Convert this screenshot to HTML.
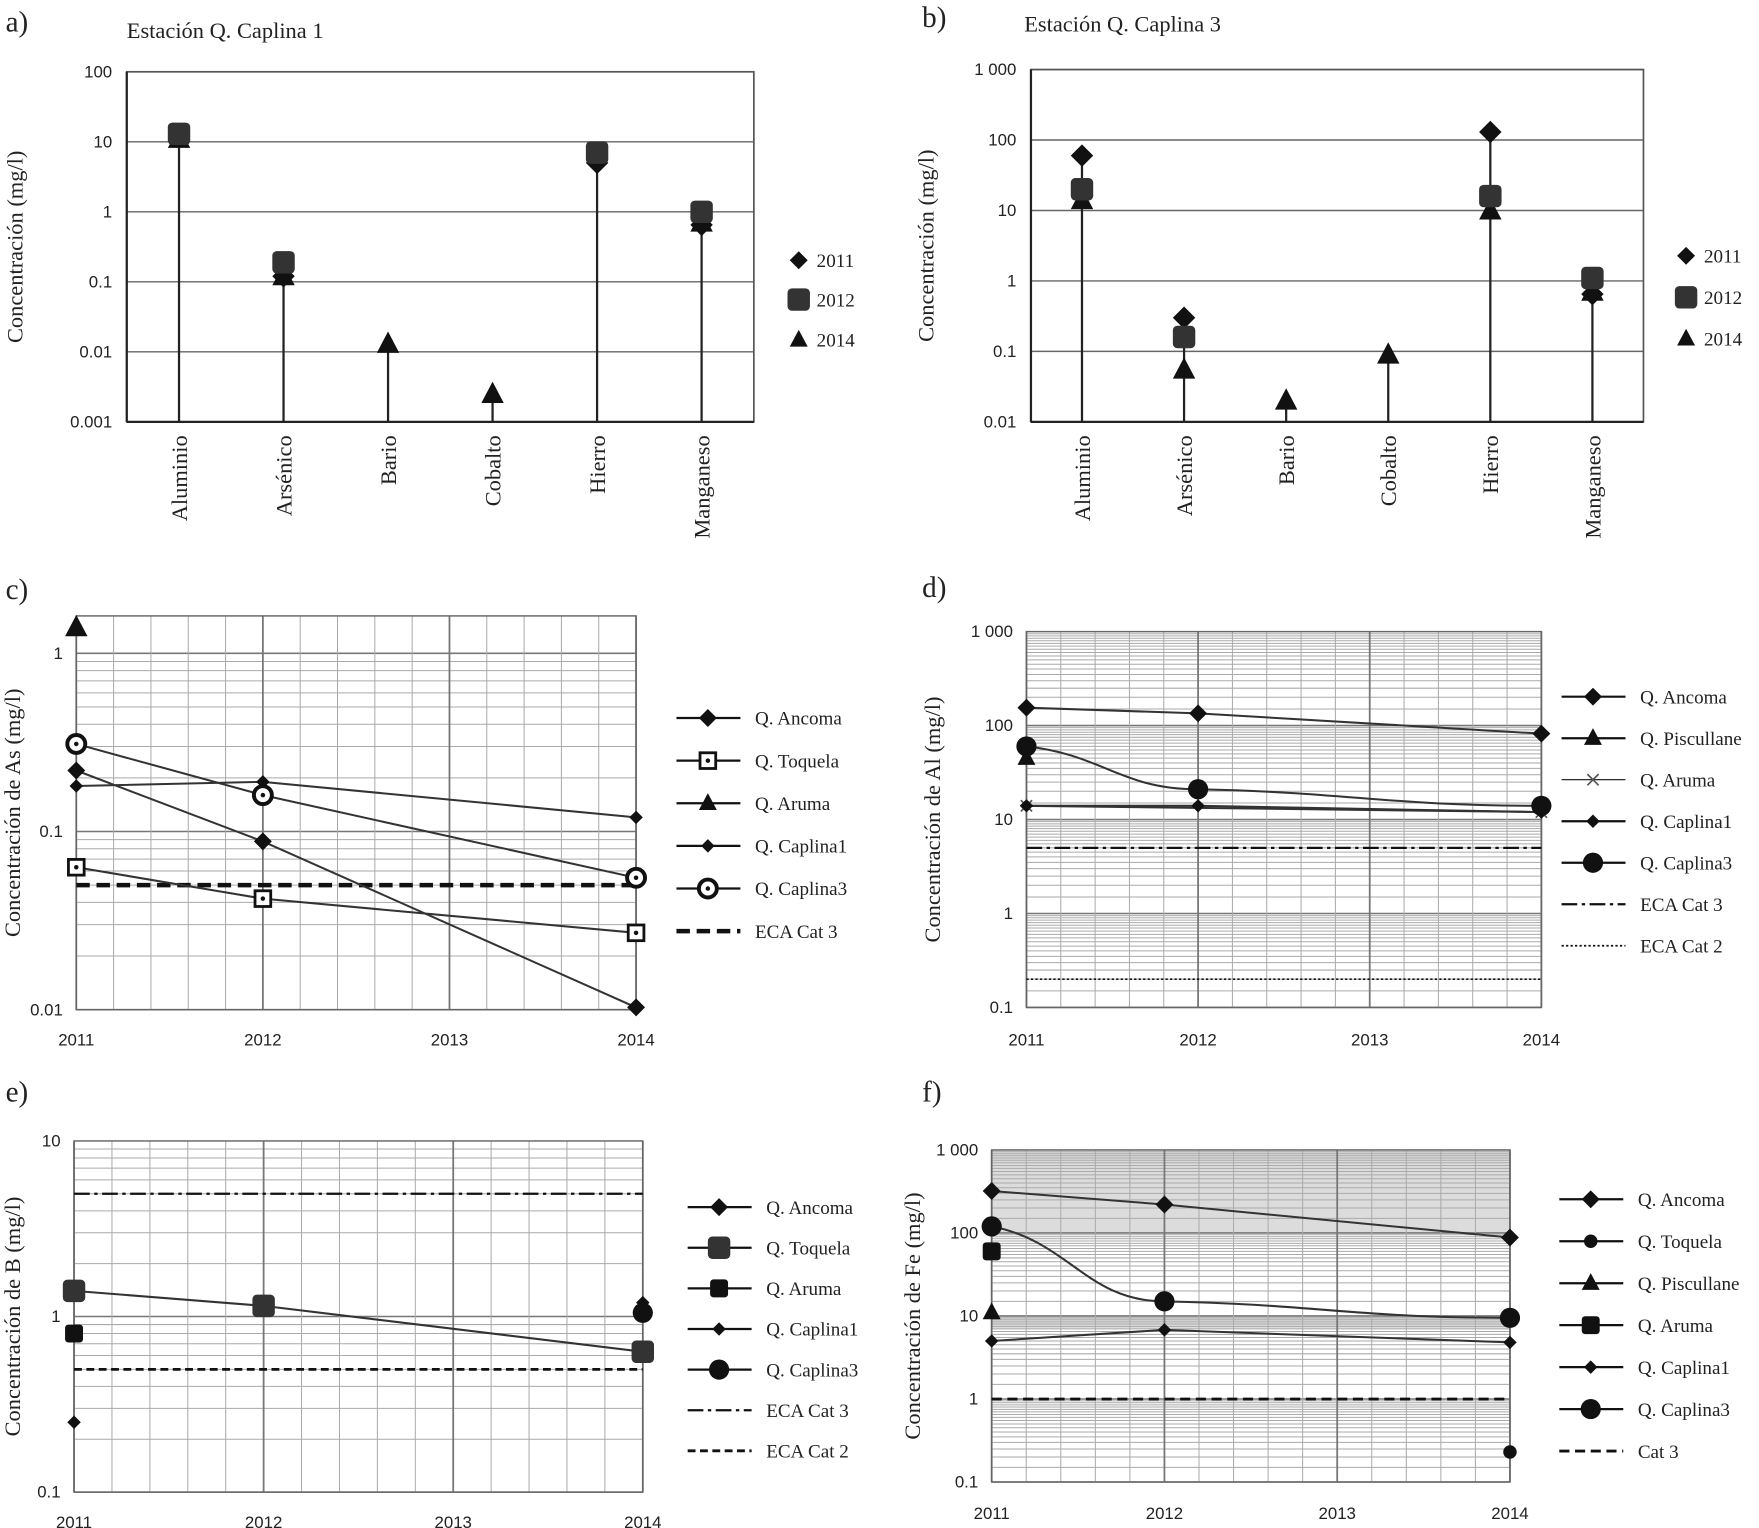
<!DOCTYPE html>
<html><head><meta charset="utf-8"><style>
html,body{margin:0;padding:0;background:#fff}
svg{display:block}
text{font-family:"Liberation Serif",serif;fill:#222}
.tk{font-family:"Liberation Sans",sans-serif;font-size:15px}
</style></head><body>
<svg id="s" width="1759" height="1528" viewBox="0 0 1568 1362" preserveAspectRatio="none" xmlns="http://www.w3.org/2000/svg"></svg>
<script>
// ---- Panel a data ----
const aCats=["Aluminio","Arsénico","Bario","Cobalto","Hierro","Manganeso"];
const a2011=[12,0.12,null,null,5,0.65];
const a2012=[13,0.19,null,null,7,1.0];
const a2014=[11,0.12,0.013,0.0025,null,0.7];
// ---- Panel b data ----
const bCats=["Aluminio","Arsénico","Bario","Cobalto","Hierro","Manganeso"];
const b2011=[60,0.3,null,null,130,0.65];
const b2012=[20,0.16,null,null,16,1.1];
const b2014=[14,0.055,0.02,0.09,10,0.7];
// ---- Panel c data ----
const years=[2011,2012,2013,2014];
const cAncoma=[0.22,0.088,null,0.0103];
const cToquela=[0.063,0.042,null,0.027];
const cAruma=[1.4,null,null,null];
const cCaplina1=[0.18,0.19,null,0.12];
const cCaplina3=[0.31,0.16,null,0.055];
const cEca3=0.05;
// ---- Panel d data ----
const dAncoma=[155,135,null,82];
const dPiscullane=[45,null,null,null];
const dAruma=[14,null,null,12];
const dCaplina1=[14,14,null,12];
const dCaplina3=[60,21,null,14];
const dEca3=5, dEca2=0.2;
// ---- Panel e data ----
const eAncoma=[0.25,null,null,null];
const eToquela=[1.4,1.15,null,0.63];
const eAruma=[0.8,null,null,null];
const eCaplina1=[null,null,null,1.2];
const eCaplina3=[null,null,null,1.05];
const eEca3=5, eEca2=0.5;
// ---- Panel f data ----
const fAncoma=[320,220,null,88];
const fToquela=[null,null,null,0.23];
const fPiscullane=[11,null,null,null];
const fAruma=[60,null,null,null];
const fCaplina1=[5,6.8,null,4.8];
const fCaplina3=[120,15,null,9.5];
const fCat3=1;

const S=document.getElementById('s');
const NS='http://www.w3.org/2000/svg';
function el(t,at,parent){const e=document.createElementNS(NS,t);for(const k in at)e.setAttribute(k,at[k]);(parent||S).appendChild(e);return e;}
function txt(x,y,s,size,anchor,cls,rot){const e=el('text',{x:x,y:y,'font-size':size,'text-anchor':anchor||'start'});if(cls)e.setAttribute('class',cls);if(rot)e.setAttribute('transform','rotate(-90 '+x+' '+y+')');e.textContent=s;return e;}
function logY(v,lo,hi,y0,y1){return y1-(Math.log10(v)-lo)/(hi-lo)*(y1-y0);}
function marker(type,x,y,g){
  const c='#111';
  if(type==='diamond'){return el('polygon',{points:`${x},${y-8} ${x+8},${y} ${x},${y+8} ${x-8},${y}`,fill:c},g);}
  if(type==='sdiamond'){return el('polygon',{points:`${x},${y-6} ${x+6},${y} ${x},${y+6} ${x-6},${y}`,fill:c},g);}
  if(type==='bdiamond'){return el('polygon',{points:`${x},${y-10} ${x+10},${y} ${x},${y+10} ${x-10},${y}`,fill:c},g);}
  if(type==='square'){return el('rect',{x:x-8,y:y-8,width:16,height:16,rx:3,fill:c},g);}
  if(type==='bsquare'){return el('rect',{x:x-10,y:y-10,width:20,height:20,rx:4,fill:'#333'},g);}
  if(type==='osquare'){const r=el('rect',{x:x-7,y:y-7,width:14,height:14,fill:'#fff',stroke:c,'stroke-width':2.5},g);el('circle',{cx:x,cy:y,r:2,fill:c},g);return r;}
  if(type==='triangle'){return el('polygon',{points:`${x},${y-9} ${x+8},${y+6} ${x-8},${y+6}`,fill:c},g);}
  if(type==='btriangle'){return el('polygon',{points:`${x},${y-11} ${x+10},${y+8} ${x-10},${y+8}`,fill:c},g);}
  if(type==='circle'){return el('circle',{cx:x,cy:y,r:9,fill:c},g);}
  if(type==='scircle'){return el('circle',{cx:x,cy:y,r:6,fill:c},g);}
  if(type==='ocircle'){const r=el('circle',{cx:x,cy:y,r:8,fill:'#fff',stroke:c,'stroke-width':3.5},g);el('circle',{cx:x,cy:y,r:2,fill:c},g);return r;}
  if(type==='x'){const g2=el('g',{},g);el('path',{d:`M${x-5} ${y-5}L${x+5} ${y+5}M${x+5} ${y-5}L${x-5} ${y+5}`,stroke:'#555','stroke-width':1.5},g2);return g2;}
}
function tickLabel(v){if(v>=1000)return '1 000';return String(v);}

function stemChart(o){
  const g=el('g',{});
  
  
  txt(o.lx,o.ly,o.letter,26,'start');
  const t=txt(o.tx,o.ty,o.title,20,'start');
  
  
  const {x0,x1,y0,y1,lo,hi}=o;
  for(let d=lo;d<=hi;d++){
    const y=logY(Math.pow(10,d),lo,hi,y0,y1);
    el('line',{x1:x0,x2:x1,y1:y,y2:y,stroke:'#666','stroke-width':1.3},g);
    const lab=txt(x0-13,y+5,tickLabel(+Math.pow(10,d).toPrecision(1)),15,'end','tk');
    
    
  }
  el('rect',{x:x0,y:y0,width:x1-x0,height:y1-y0,fill:'none',stroke:'#555','stroke-width':1.5},g);
  el('line',{x1:x0,x2:x0,y1:y0,y2:y1,stroke:'#222','stroke-width':2},g);
  el('line',{x1:x0,x2:x1,y1:y1,y2:y1,stroke:'#222','stroke-width':2},g);
  const yt=txt(o.ytx,(y0+y1)/2,'Concentración (mg/l)',20,'middle',null,true);
  
  
  const n=o.cats.length,bw=(x1-x0)/n;
  o.cats.forEach((c,i)=>{
    const x=x0+bw*(i+0.5);
    const vals=[o.s11[i],o.s12[i],o.s14[i]].filter(v=>v!=null);
    const mx=Math.max(...vals);
    const st=el('line',{x1:x,x2:x,y1:y1,y2:logY(mx,lo,hi,y0,y1),stroke:'#222','stroke-width':2},g);
    
    
    [[o.s14,'btriangle'],[o.s11,'bdiamond'],[o.s12,'bsquare']].forEach(([arr,m])=>{
      if(arr[i]!=null){const mk=marker(m,x,logY(arr[i],lo,hi,y0,y1),g);
        
        }
    });
    const cl=txt(x+7,y1+12,c,20,'end',null,true);
    
    
  });
  [['2011','diamond'],['2012','bsquare'],['2014','triangle']].forEach((e,k)=>{
    const y=o.legY[k];
    marker(e[1],o.legX,y,g);
    const lt=txt(o.legX+16,y+6,e[0],17,'start');
    
    
  });
}
stemChart({name:'chart-a',letter:'a)',lx:5,ly:28,title:'Estación Q. Caplina 1',tx:113,ty:34,x0:113,x1:672,y0:64,y1:376,lo:-3,hi:2,ytx:20,cats:aCats,s11:a2011,s12:a2012,s14:a2014,legX:712,legY:[232,267,303]});
stemChart({name:'chart-b',letter:'b)',lx:822,ly:24,title:'Estación Q. Caplina 3',tx:913,ty:28,x0:919,x1:1465,y0:62,y1:376,lo:-2,hi:3,ytx:832,cats:bCats,s11:b2011,s12:b2012,s14:b2014,legX:1503,legY:[228,265,302]});

function lineChart(o){
  const g=el('g',{});
  
  
  txt(o.lx,o.ly,o.letter,26,'start');
  const {x0,x1,y0,y1,lo,hi,top}=o;
  const X=yr=>x0+(yr-2011)/3*(x1-x0);
  const Y=v=>y1-(Math.log10(v)-lo)/(top-lo)*(y1-y0);
  (o.shade||[]).forEach(b=>{el('rect',{x:x0,y:Y(b[1]),width:x1-x0,height:Y(b[0])-Y(b[1]),fill:'#dcdcdc'},g);});
  for(let d=lo;d<Math.ceil(top);d++){
    for(let k=1;k<10;k++){
      const steps=o.fine?[k,k+0.5]:[k];
      steps.forEach(kk=>{const v=kk*Math.pow(10,d);if(v>Math.pow(10,top)+1e-9||v<Math.pow(10,lo))return;
        const y=Y(v);el('line',{x1:x0,x2:x1,y1:y,y2:y,stroke:kk===1?'#777':'#aaa','stroke-width':kk===1?1.4:0.9},g);});
    }
  }
  for(let i=0;i<=15;i++){const x=x0+i/15*(x1-x0);el('line',{x1:x,x2:x,y1:y0,y2:y1,stroke:i%5===0?'#777':'#aaa','stroke-width':i%5===0?1.6:0.9},g);}
  el('rect',{x:x0,y:y0,width:x1-x0,height:y1-y0,fill:'none',stroke:'#666','stroke-width':1.3},g);
  for(let d=lo;d<=Math.floor(top);d++){
    const v=+Math.pow(10,d).toPrecision(1);
    const l=txt(x0-12,Y(v)+5,tickLabel(v),15,'end','tk');
    
    
  }
  years.forEach(yr=>{const l=txt(X(yr),o.xly,String(yr),15,'middle','tk');
    
    });
  const yt=txt(o.ytx,(y0+y1)/2,o.ytitle,20,'middle',null,true);
  
  
  o.refs.forEach(r=>{
    const y=Y(r.v);
    const ln=el('line',{x1:x0,x2:x1,y1:y,y2:y,stroke:'#111','stroke-width':r.w,'stroke-dasharray':r.dash},g);
    
    
  });
  o.series.forEach(s=>{
    const pts=[];s.vals.forEach((v,i)=>{if(v!=null)pts.push([X(years[i]),Y(v)]);});
    if(pts.length>1){
      let d='M'+pts[0][0]+' '+pts[0][1];
      for(let i=1;i<pts.length;i++){
        if(s.curve){const p=pts[i-1],q=pts[i];const cx=(q[0]-p[0])*0.45;d+=` C${p[0]+cx} ${p[1]+(q[1]-p[1])*0.2} ${q[0]-cx} ${q[1]} ${q[0]} ${q[1]}`;}
        else d+=' L'+pts[i][0]+' '+pts[i][1];
      }
      const pl=el('path',{d:d,fill:'none',stroke:'#333','stroke-width':1.8},g);
      
      
    }
    pts.forEach(p=>{const mk=marker(s.m,p[0],p[1],g);
      
      });
  });
  o.legend.forEach((e,k)=>{
    const y=o.legY0+k*o.legDy;
    el('line',{x1:o.legX,x2:o.legX+57,y1:y,y2:y,stroke:'#111','stroke-width':e.w||2,'stroke-dasharray':e.dash||''},g);
    if(e.m)marker(e.m,o.legX+28,y,g);
    const lt=txt(o.legX+70,y+6,e.t,17,'start');
    
    
  });
}
lineChart({name:'chart-c',letter:'c)',lx:5,ly:534,x0:68,x1:567,y0:549,y1:900,lo:-2,top:0.21,xly:932,ytx:18,ytitle:'Concentración de As (mg/l)',
  refs:[{v:cEca3,w:4,dash:'12 6'}],
  series:[{key:'ancoma',vals:cAncoma,m:'diamond'},{key:'toquela',vals:cToquela,m:'osquare'},{key:'aruma',vals:cAruma,m:'btriangle'},{key:'caplina1',vals:cCaplina1,m:'sdiamond'},{key:'caplina3',vals:cCaplina3,m:'ocircle'}],
  legX:603,legY0:640,legDy:38,
  legend:[{t:'Q. Ancoma',m:'diamond'},{t:'Q. Toquela',m:'osquare'},{t:'Q. Aruma',m:'triangle'},{t:'Q. Caplina1',m:'sdiamond'},{t:'Q. Caplina3',m:'ocircle'},{t:'ECA Cat 3',w:4,dash:'12 6'}]});
lineChart({name:'chart-d',letter:'d)',lx:822,ly:532,x0:915,x1:1374,y0:563,y1:898,lo:-1,top:3,xly:932,ytx:838,ytitle:'Concentración de Al (mg/l)',fine:true,
  refs:[{v:dEca3,w:2,dash:'14 4 3 4'},{v:dEca2,w:1.5,dash:'2 2'}],
  series:[{key:'ancoma',vals:dAncoma,m:'diamond'},{key:'piscullane',vals:dPiscullane,m:'triangle'},{key:'aruma',vals:dAruma,m:'x'},{key:'caplina1',vals:dCaplina1,m:'sdiamond'},{key:'caplina3',vals:dCaplina3,m:'circle',curve:true}],
  legX:1392,legY0:621,legDy:37,
  legend:[{t:'Q. Ancoma',m:'diamond'},{t:'Q. Piscullane',m:'triangle'},{t:'Q. Aruma',m:'x',w:1},{t:'Q. Caplina1',m:'sdiamond'},{t:'Q. Caplina3',m:'circle'},{t:'ECA Cat 3',dash:'14 4 3 4'},{t:'ECA Cat 2',w:1.5,dash:'2 2'}]});
lineChart({name:'chart-e',letter:'e)',lx:5,ly:982,x0:66,x1:573,y0:1017,y1:1330,lo:-1,top:1,xly:1362,ytx:18,ytitle:'Concentración de B (mg/l)',
  refs:[{v:eEca3,w:2,dash:'14 4 3 4'},{v:eEca2,w:2.5,dash:'7 4'}],
  series:[{key:'ancoma',vals:eAncoma,m:'sdiamond'},{key:'toquela',vals:eToquela,m:'bsquare'},{key:'aruma',vals:eAruma,m:'square'},{key:'caplina1',vals:eCaplina1,m:'sdiamond'},{key:'caplina3',vals:eCaplina3,m:'circle'}],
  legX:613,legY0:1076,legDy:36.2,
  legend:[{t:'Q. Ancoma',m:'diamond'},{t:'Q. Toquela',m:'bsquare'},{t:'Q. Aruma',m:'square'},{t:'Q. Caplina1',m:'sdiamond'},{t:'Q. Caplina3',m:'circle'},{t:'ECA Cat 3',dash:'14 4 3 4'},{t:'ECA Cat 2',w:2.5,dash:'7 4'}]});
lineChart({name:'chart-f',letter:'f)',lx:822,ly:982,x0:884,x1:1346,y0:1025,y1:1321,lo:-1,top:3,xly:1354,ytx:820,ytitle:'Concentración de Fe (mg/l)',fine:true,
  shade:[[100,1000],[7,10]],
  refs:[{v:fCat3,w:2.5,dash:'9 5'}],
  series:[{key:'ancoma',vals:fAncoma,m:'diamond'},{key:'toquela',vals:fToquela,m:'scircle'},{key:'piscullane',vals:fPiscullane,m:'triangle'},{key:'aruma',vals:fAruma,m:'square'},{key:'caplina1',vals:fCaplina1,m:'sdiamond'},{key:'caplina3',vals:fCaplina3,m:'circle',curve:true}],
  legX:1390,legY0:1069,legDy:37.4,
  legend:[{t:'Q. Ancoma',m:'diamond'},{t:'Q. Toquela',m:'scircle'},{t:'Q. Piscullane',m:'triangle'},{t:'Q. Aruma',m:'square'},{t:'Q. Caplina1',m:'sdiamond'},{t:'Q. Caplina3',m:'circle'},{t:'Cat 3',w:2.5,dash:'9 5'}]});
</script>
</body></html>
